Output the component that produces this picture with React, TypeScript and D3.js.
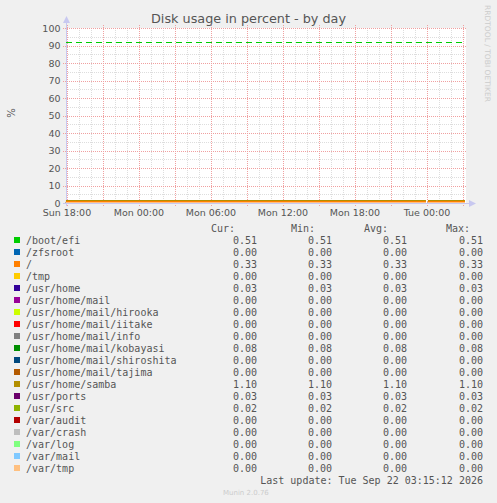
import React from 'react';
import * as d3 from 'd3';

// chart window (Munin "by day" graph)
const periodStart = new Date(2026, 8, 20, 17, 55, 12);
const periodEnd = new Date(2026, 8, 22, 3, 15, 12);

// sample times of the flat series; false marks the missing sample at Tue 00:00
const sampleTimes = [
    new Date(2026, 8, 20, 17, 55),
    new Date(2026, 8, 21, 23, 55),
    new Date(2026, 8, 22, 0, 0),
    new Date(2026, 8, 22, 0, 5),
    new Date(2026, 8, 22, 3, 10),
];
const sampleMask = [true, true, false, true, true];

const mounts = [
    '/boot/efi', '/zfsroot', '/', '/tmp', '/usr/home', '/usr/home/mail',
    '/usr/home/mail/hirooka', '/usr/home/mail/iitake', '/usr/home/mail/info',
    '/usr/home/mail/kobayasi', '/usr/home/mail/shiroshita', '/usr/home/mail/tajima',
    '/usr/home/samba', '/usr/ports', '/usr/src', '/var/audit', '/var/crash',
    '/var/log', '/var/mail', '/var/tmp',
];
const colors = [
    '#00CC00', '#0066B3', '#FF8000', '#FFCC00', '#330099', '#990099',
    '#CCFF00', '#FF0000', '#808080', '#008F00', '#00487D', '#B35A00',
    '#B38F00', '#6B006B', '#8FB300', '#B30000', '#BEBEBE',
    '#80FF80', '#80C9FF', '#FFC080',
];
const curValues = [0.51, 0, 0.33, 0, 0.03, 0, 0, 0, 0, 0.08, 0, 0, 1.10, 0.03, 0.02, 0, 0, 0, 0, 0];
const minValues = [0.51, 0, 0.33, 0, 0.03, 0, 0, 0, 0, 0.08, 0, 0, 1.10, 0.03, 0.02, 0, 0, 0, 0, 0];
const avgValues = [0.51, 0, 0.33, 0, 0.03, 0, 0, 0, 0, 0.08, 0, 0, 1.10, 0.03, 0.02, 0, 0, 0, 0, 0];
const maxValues = [0.51, 0, 0.33, 0, 0.03, 0, 0, 0, 0, 0.08, 0, 0, 1.10, 0.03, 0.02, 0, 0, 0, 0, 0];

const warningLevel = 92;
const lastUpdate = 'Last update: Tue Sep 22 03:15:12 2026';

const W = 497;
const H = 503;
const plot = { left: 66, right: 466, top: 28, bottom: 203 };
const sans = 'DejaVu Sans, sans-serif';
const mono = 'DejaVu Sans Mono, monospace';
const textGray = '#555555';

const App: React.FC = () => {
    const x = d3.scaleTime().domain([periodStart, periodEnd]).range([plot.left, plot.right]);
    const y = d3.scaleLinear().domain([0, 100]).range([plot.bottom, plot.top]);

    const minorX = d3.timeHour.every(1)!.range(periodStart, periodEnd).filter(t => t.getHours() % 3 !== 0);
    const majorX = d3.timeHour.every(3)!.range(periodStart, periodEnd);
    const labelX = d3.timeHour.every(6)!.range(periodStart, periodEnd);
    const fmt = d3.timeFormat('%a %H:%M');

    const minorY = d3.range(0, 101, 5).filter(v => v % 10 !== 0);
    const majorY = y.ticks(10);

    const line = d3.line<number>()
        .defined((_, i) => sampleMask[i])
        .x((_, i) => x(sampleTimes[i]))
        .y(v => Math.round(y(v)) - 0.5);

    const rowY = (i: number) => 240 + i * 12;
    const colRight = [257, 332, 407, 483];
    const headers = ['Cur:', 'Min:', 'Avg:', 'Max:'];
    const headerRight = [235, 315, 388, 470];
    const stats = [curValues, minValues, avgValues, maxValues];

    return (
        <svg width={W} height={H} style={{ position: 'absolute', left: 0, top: 0 }}>
            <rect width={W} height={H} fill="#F0F0F0" />
            <rect x={plot.left} y={plot.top} width={plot.right - plot.left} height={plot.bottom - plot.top} fill="#FFFFFF" />

            {/* minor grid */}
            {minorX.map((t, i) => (
                <line key={'mx' + i} x1={Math.round(x(t)) + 0.5} x2={Math.round(x(t)) + 0.5} y1={plot.top} y2={plot.bottom}
                    stroke="#DDDDDD" strokeDasharray="1,1" />
            ))}
            {minorY.map(v => (
                <line key={'my' + v} x1={plot.left} x2={plot.right} y1={Math.round(y(v)) + 0.5} y2={Math.round(y(v)) + 0.5}
                    stroke="#DDDDDD" strokeDasharray="1,1" />
            ))}
            {/* major grid */}
            {majorX.map((t, i) => (
                <line key={'Mx' + i} x1={Math.round(x(t)) + 0.5} x2={Math.round(x(t)) + 0.5} y1={plot.top - 3} y2={plot.bottom + 3}
                    stroke="#F0A0A0" strokeDasharray="1,1" />
            ))}
            {majorY.map(v => (
                <line key={'My' + v} x1={plot.left - 3} x2={plot.right} y1={Math.round(y(v)) + 0.5} y2={Math.round(y(v)) + 0.5}
                    stroke="#F0A0A0" strokeDasharray="1,1" />
            ))}

            {/* axes */}
            <line x1={plot.left + 0.5} x2={plot.left + 0.5} y1={plot.bottom + 3} y2={plot.top - 6} stroke="#C8C8F0" />
            <path d={`M${plot.left - 3},${plot.top - 5} L${plot.left + 4},${plot.top - 5} L${plot.left + 0.5},${plot.top - 12} Z`} fill="#C8C8F0" />
            <line x1={plot.left - 3} x2={plot.right + 4} y1={plot.bottom + 0.5} y2={plot.bottom + 0.5} stroke="#C8C8F0" />
            <path d={`M${plot.right + 3},${plot.bottom - 3} L${plot.right + 3},${plot.bottom + 4} L${plot.right + 10},${plot.bottom + 0.5} Z`} fill="#C8C8F0" />

            {/* warning line */}
            <line x1={plot.left} x2={x(sampleTimes[sampleTimes.length - 1])} y1={Math.round(y(warningLevel)) + 0.5} y2={Math.round(y(warningLevel)) + 0.5}
                stroke="#00CC00" strokeWidth={1} strokeDasharray="6,4" />

            {/* series */}
            {mounts.map((m, i) => (
                <path key={m} d={line(sampleTimes.map(() => curValues[i])) || ''} fill="none" stroke={colors[i]} strokeWidth={1} />
            ))}

            {/* tick labels */}
            {majorY.map(v => (
                <text key={'ty' + v} x={60.5} y={y(v) + 3.5} textAnchor="end" fontFamily={sans} fontSize={9.5} fill={textGray}>{v}</text>
            ))}
            {labelX.map((t, i) => (
                <text key={'tx' + i} x={x(t)} y={216} textAnchor="middle" fontFamily={sans} fontSize={9.5} fill={textGray}>{fmt(t)}</text>
            ))}

            <text x={W / 2} y={23} textAnchor="middle" fontFamily={sans} fontSize={12.8} fill={textGray}>Disk usage in percent - by day</text>
            <text transform="translate(15,113) rotate(-90)" textAnchor="middle" fontFamily={sans} fontSize={10} fill={textGray}>%</text>
            <text transform="translate(485,5) rotate(90)" fontFamily={sans} fontSize={7.5} fill="#CCCCCC"
                textLength={97} lengthAdjust="spacingAndGlyphs">RRDTOOL / TOBI OETIKER</text>

            {/* legend */}
            {headers.map((h, j) => (
                <text key={h} x={headerRight[j]} y={231.5} textAnchor="end" fontFamily={mono} fontSize={10} fill={textGray}>{h}</text>
            ))}
            {mounts.map((m, i) => (
                <g key={'lg' + m}>
                    <rect x={14} y={rowY(i) - 3} width={6} height={6} fill={colors[i]} />
                    <text x={26} y={rowY(i) + 3.5} fontFamily={mono} fontSize={10} fill={textGray}>{m}</text>
                    {stats.map((s, j) => (
                        <text key={j} x={colRight[j]} y={rowY(i) + 3.5} textAnchor="end" fontFamily={mono} fontSize={10} fill={textGray}>
                            {s[i].toFixed(2)}
                        </text>
                    ))}
                </g>
            ))}
            <text x={483} y={483.5} textAnchor="end" fontFamily={mono} fontSize={10} fill={textGray}>{lastUpdate}</text>
            <text x={223} y={495} fontFamily={sans} fontSize={7} fill="#CCCCCC">Munin 2.0.76</text>
        </svg>
    );
};

export default App;
